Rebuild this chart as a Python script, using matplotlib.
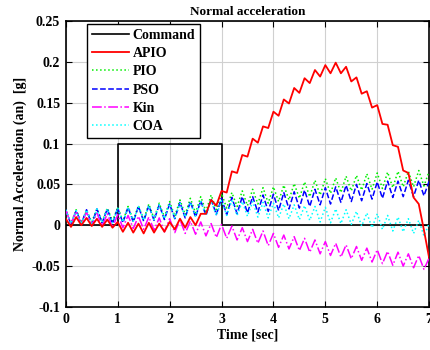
import numpy as np
import matplotlib
matplotlib.use('Agg')
import matplotlib.pyplot as plt

# time axis, 0.1 s step
t = np.round(np.arange(71) * 0.1, 1)

# command step (time, value)
cmd_t = [0, 1, 1, 3, 3, 7]
cmd_v = [0, 0, 0.1, 0.1, 0, 0]

# responses, in milli-g
apio_mg = [8, -2, 10, 0, 9, -1, 8, -2, 7, -3,
           4, -8, 3, -9, 2, -10, 3, -9, 2, -8,
           4, -5, 8, -3, 10, 0, 14, 14, 31, 24,
           42, 40, 66, 64, 86, 84, 106, 101, 121, 119,
           139, 134, 154, 149, 168, 162, 180, 174, 190, 182,
           196, 186, 199, 186, 194, 176, 181, 161, 164, 144,
           147, 124, 123, 98, 96, 67, 64, 34, 26, -6,
           -40]
pio_mg = [18, 2, 19, 3, 18, 4, 20, 4, 21, 5,
          22, 5, 23, 6, 24, 7, 26, 8, 27, 10,
          29, 11, 31, 13, 33, 15, 35, 17, 37, 19,
          39, 21, 40, 23, 42, 24, 44, 26, 46, 27,
          47, 29, 49, 31, 51, 33, 53, 35, 55, 37,
          57, 39, 58, 40, 60, 42, 61, 43, 63, 44,
          64, 45, 65, 46, 66, 47, 66, 47, 67, 48,
          66]
pso_mg = [19, 1, 18, 2, 19, 1, 20, 3, 20, 2,
          21, 3, 22, 4, 23, 5, 24, 6, 25, 7,
          26, 8, 28, 9, 29, 10, 30, 12, 32, 13,
          33, 13, 34, 14, 35, 15, 35, 16, 37, 17,
          38, 18, 40, 20, 41, 21, 43, 23, 44, 25,
          46, 26, 47, 28, 49, 29, 50, 30, 51, 32,
          53, 33, 54, 34, 54, 35, 55, 35, 55, 36,
          54]
kin_mg = [18, 2, 17, 1, 16, 0, 15, -1, 14, -3,
          13, -3, 12, -4, 11, -5, 10, -6, 9, -8,
          8, -9, 7, -10, 5, -11, 4, -13, 2, -15,
          1, -16, -1, -18, -3, -20, -5, -22, -7, -25,
          -10, -27, -12, -29, -14, -31, -16, -33, -18, -35,
          -20, -37, -22, -39, -24, -41, -26, -43, -28, -45,
          -30, -47, -32, -49, -33, -50, -35, -52, -37, -54,
          -40]
coa_mg = [19, 2, 18, 1, 19, 2, 20, 3, 20, 3,
          21, 4, 22, 5, 23, 6, 24, 7, 25, 8,
          26, 9, 27, 10, 28, 11, 29, 12, 30, 12,
          30, 12, 30, 12, 29, 11, 29, 10, 28, 9,
          27, 9, 26, 8, 25, 7, 24, 6, 23, 4,
          22, 3, 20, 2, 19, 1, 17, -1, 15, -3,
          14, -5, 12, -7, 10, -8, 8, -10, 6, -13,
          2]

plt.rcParams['font.family'] = 'Liberation Serif'
plt.rcParams['font.weight'] = 'bold'
plt.rcParams['font.size'] = 10

fig = plt.figure(figsize=(4.3, 3.5), dpi=100)
ax = fig.add_axes([0.153, 0.123, 0.845, 0.817])

ax.plot(cmd_t, cmd_v, color='black', lw=1.2, label='Command', zorder=3)
ax.plot(t, np.array(apio_mg) / 1000, color='red', lw=1.3, label='APIO', zorder=6)
ax.plot(t, np.array(pio_mg) / 1000, color='#00ee00', lw=1.1, ls=':', label='PIO', zorder=4)
ax.plot(t, np.array(pso_mg) / 1000, color='blue', lw=1.1, ls='--', label='PSO', zorder=4)
ax.plot(t, np.array(kin_mg) / 1000, color='magenta', lw=1.1, ls='-.', label='Kin', zorder=4)
ax.plot(t, np.array(coa_mg) / 1000, color='cyan', lw=1.1, ls=':', label='COA', zorder=5)

ax.set_xlim(0, 7)
ax.set_ylim(-0.1, 0.25)
ax.set_xticks(range(8))
ax.set_yticks([-0.1, -0.05, 0, 0.05, 0.1, 0.15, 0.2, 0.25])
ax.set_yticklabels(['-0.1', '-0.05', '0', '0.05', '0.1', '0.15', '0.2', '0.25'])
ax.grid(True, color='#d0d0d0', lw=0.8)
ax.tick_params(direction='in', length=4, top=True, right=True, pad=4)
for s in ax.spines.values():
    s.set_linewidth(1.2)

ax.set_title('Normal acceleration', fontweight='bold', fontsize=9.5, pad=4)
ax.set_xlabel('Time [sec]', fontweight='bold', labelpad=2)
ax.set_ylabel('Normal Acceleration (an)  [g]', fontweight='bold', labelpad=3)

leg = ax.legend(loc='upper left', bbox_to_anchor=(0.058, 0.99), fancybox=False,
                edgecolor='black', framealpha=1, handlelength=2.7, borderpad=0.35,
                labelspacing=0.38, handletextpad=0.25, borderaxespad=0, fontsize=10)
leg.get_frame().set_linewidth(1.0)

fig.savefig('out.png', dpi=100)
